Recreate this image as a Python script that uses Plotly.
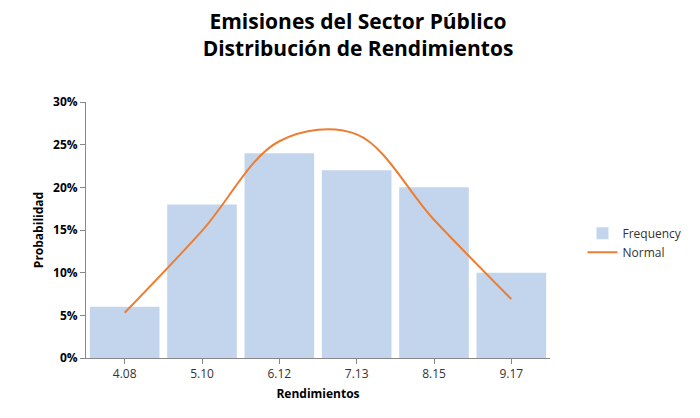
import plotly.graph_objects as go

categories = ["4.08", "5.10", "6.12", "7.13", "8.15", "9.17"]
frequency = [0.06, 0.18, 0.24, 0.22, 0.20, 0.10]
normal = [0.053, 0.149, 0.254, 0.262, 0.162, 0.069]

fig = go.Figure()
fig.add_trace(go.Bar(x=categories, y=frequency, name="Frequency",
                     marker=dict(color="#c3d5ec", line=dict(width=0)), width=0.9))
fig.add_trace(go.Scatter(x=categories, y=normal, name="Normal", mode="lines",
                         line=dict(color="#ed7d31", width=2, shape="spline", smoothing=1.0)))

fig.update_layout(
    width=700, height=418, plot_bgcolor="white", paper_bgcolor="white",
    margin=dict(l=78, r=158, t=94, b=68),
    font=dict(family="Open Sans, DejaVu Sans", size=12, color="#000"),
    title=dict(text="<b>Emisiones del Sector Público<br>Distribución de Rendimientos</b>",
               x=0.5, xanchor="center", y=0.95, yanchor="top",
               font=dict(size=21, color="#000")),
    legend=dict(x=1.07, y=0.45, yanchor="middle", font=dict(size=12, color="#333"),
                bgcolor="rgba(0,0,0,0)"),
    bargap=0.1, showlegend=True,
)
fig.update_xaxes(title=dict(text="<b>Rendimientos</b>", font=dict(size=12), standoff=8),
                 showline=True, linecolor="#888", ticks="outside", ticklen=5, tickcolor="#888",
                 tickfont=dict(size=12, color="#333"))
fig.update_yaxes(title=dict(text="<b>Probabilidad</b>", font=dict(size=12), standoff=6),
                 range=[0, 0.30], dtick=0.05, tickformat=".0%", showgrid=False,
                 showline=True, linecolor="#888", ticks="outside", ticklen=5, tickcolor="#888",
                 tickfont=dict(size=12, color="#000", family="Open Sans, DejaVu Sans", weight="bold"),
                 zeroline=False)
fig.write_html("out.html")
